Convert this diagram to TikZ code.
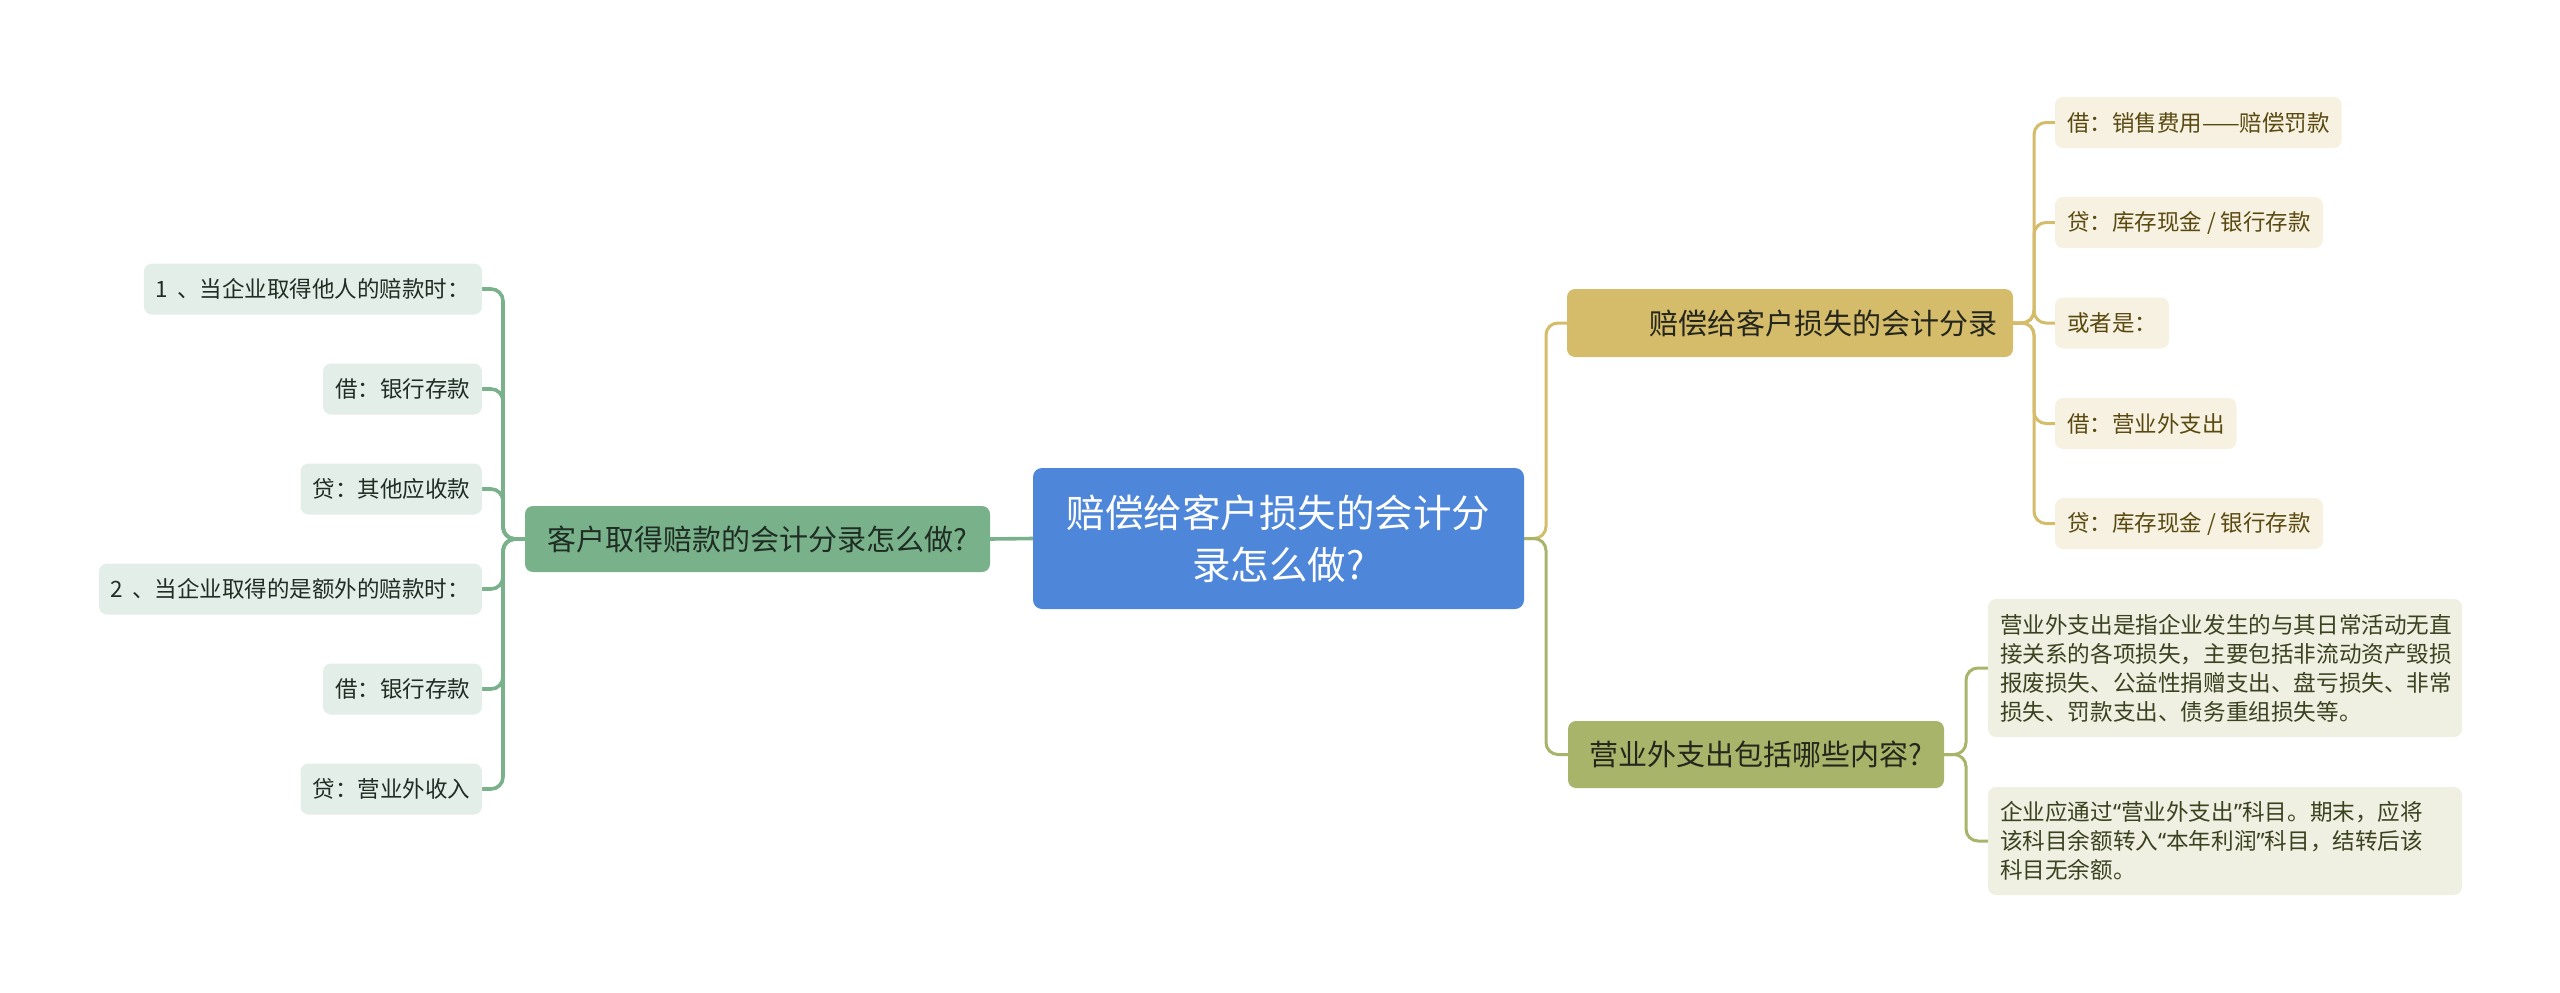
\documentclass[tikz,border=0pt]{standalone}
\usepackage{fontspec}
\setmainfont{Noto Sans CJK SC}
\newfontfamily\latq{Noto Sans}
\definecolor{cblue}{HTML}{4E86D9}
\definecolor{gmainc}{HTML}{79B28A}
\definecolor{gleaf}{HTML}{E4EEE8}
\definecolor{gtext}{HTML}{1F2D24}
\definecolor{goldc}{HTML}{D4BC6B}
\definecolor{goldleaf}{HTML}{F6F1E0}
\definecolor{goldtext}{HTML}{5A4A12}
\definecolor{olivec}{HTML}{A9B46B}
\definecolor{oliveleaf}{HTML}{EFEFE2}
\definecolor{olivetext}{HTML}{3B4220}
\definecolor{darktext}{HTML}{25261C}
\pgfdeclarelayer{bg}
\pgfsetlayers{bg,main}
\begin{document}
\begin{tikzpicture}[x=1pt,y=-1pt,
  every node/.style={inner sep=0pt, outer sep=0pt},
  conn/.style={line width=3pt, rounded corners=12pt},
  lconn/.style={line width=3.6pt, rounded corners=12pt},
  central/.style={fill=cblue, rounded corners=9pt, minimum width=491pt, minimum height=141pt,
    text=white, align=center, font=\fontsize{38.5}{52}\selectfont},
  gmain/.style={fill=gmainc, rounded corners=8pt, minimum width=465pt, minimum height=66pt,
    text=gtext, font=\fontsize{29}{36}\selectfont},
  lleaf/.style={fill=gleaf, rounded corners=8pt, minimum height=51pt, inner xsep=12pt,
    text=gtext, font=\fontsize{22.5}{28}\selectfont, anchor=east},
  goldmain/.style={fill=goldc, rounded corners=8pt, text width=414pt, align=right, inner xsep=16pt,
    minimum height=68pt, text=darktext, font=\fontsize{29}{36}\selectfont},
  yleaf/.style={fill=goldleaf, rounded corners=8pt, minimum height=51pt, inner xsep=12pt,
    text=goldtext, font=\fontsize{22.5}{28}\selectfont, anchor=west},
  olivemain/.style={fill=olivec, rounded corners=8pt, minimum width=376pt, minimum height=67pt,
    text=darktext, font=\fontsize{29}{36}\selectfont},
  oleaf/.style={fill=oliveleaf, rounded corners=8pt, text width=450pt, inner xsep=12pt, align=left,
    text=olivetext, font=\fontsize{22.6}{29}\selectfont, anchor=west}
]
\useasboundingbox (0,0) rectangle (2560,993);

% central
\node[central] (c) at (1278.5,538.5) {赔偿给客户损失的会计分\\录怎么做?};

% left branch
\node[gmain] (g) at (757.5,539) {客户取得赔款的会计分录怎么做?};
\node[lleaf] (l1) at (482,289) {1\hspace{4pt} 、当企业取得他人的赔款时：};
\node[lleaf] (l2) at (482,389) {借：银行存款};
\node[lleaf] (l3) at (482,489) {贷：其他应收款};
\node[lleaf] (l4) at (482,589) {2\hspace{4pt} 、当企业取得的是额外的赔款时：};
\node[lleaf] (l5) at (482,689) {借：银行存款};
\node[lleaf] (l6) at (482,789) {贷：营业外收入};

% right top branch
\node[goldmain] (y) at (1790,323) {赔偿给客户损失的会计分录};
\node[yleaf] (y1) at (2055,122.5) {借：销售费用——赔偿罚款};
\node[yleaf] (y2) at (2055,222.5) {贷：库存现金 / 银行存款};
\node[yleaf] (y3) at (2055,323) {或者是：};
\node[yleaf] (y4) at (2055,423.5) {借：营业外支出};
\node[yleaf] (y5) at (2055,523.5) {贷：库存现金 / 银行存款};

% right bottom branch
\node[olivemain] (o) at (1756,754.5) {营业外支出包括哪些内容?};
\node[oleaf, minimum height=138pt] (o1) at (1988,668) {营业外支出是指企业发生的与其日常活动无直\\接关系的各项损失，主要包括非流动资产毁损\\报废损失、公益性捐赠支出、盘亏损失、非常\\损失、罚款支出、债务重组损失等。};
\node[oleaf, minimum height=108pt] (o2) at (1988,841) {企业应通过{\latq “}营业外支出{\latq ”}科目。期末，应将\\该科目余额转入{\latq “}本年利润{\latq ”}科目，结转后该\\科目无余额。};

\begin{pgfonlayer}{bg}
  \draw[lconn, gmainc] (c.west) -- (g.east);
  \foreach \n in {l1,l2,l3,l4,l5,l6}
    \draw[lconn, gmainc] (g.west) -- ++(-22,0) |- (\n.east);
  \draw[conn, goldc] (c.east) -- ++(22,0) |- (y.west);
  \draw[conn, olivec] (c.east) -- ++(22,0) |- (o.west);
  \foreach \n in {y1,y2,y3,y4,y5}
    \draw[conn, goldc] (y.east) -- ++(21,0) |- (\n.west);
  \foreach \n in {o1,o2}
    \draw[conn, olivec] (o.east) -- ++(22,0) |- (\n.west);
\end{pgfonlayer}
\end{tikzpicture}
\end{document}
